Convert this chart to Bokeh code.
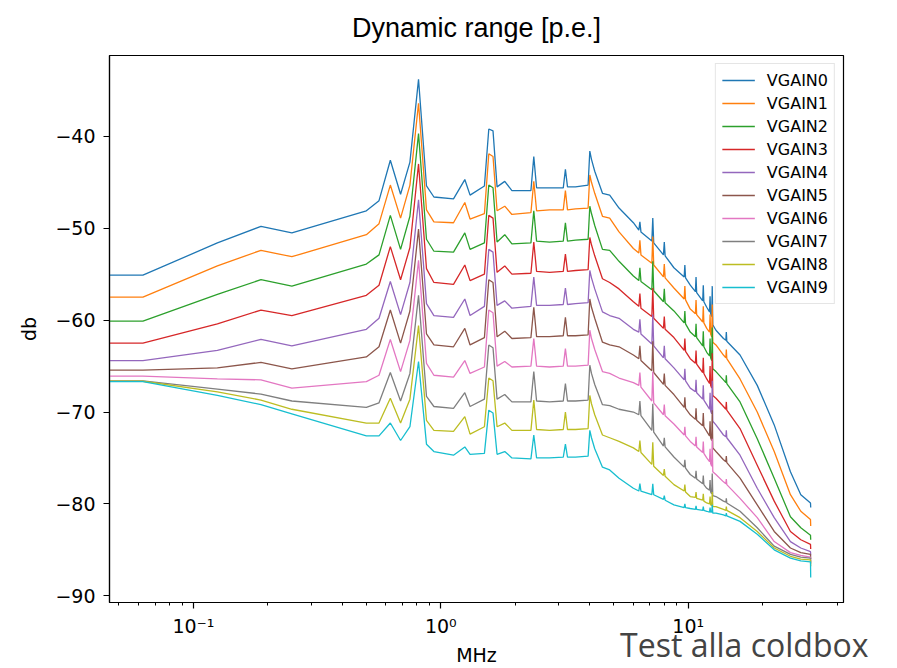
from bokeh.plotting import figure
from bokeh.models import Range1d, FixedTicker, Legend, LegendItem, Title
from bokeh.embed import file_html
from bokeh.resources import INLINE

# Frequency (MHz) sample points
FREQ = [0.0458, 0.0625, 0.125, 0.1875, 0.25, 0.5, 0.5625, 0.625, 0.6875, 0.75,
        0.8125, 0.875, 0.9375, 1.125, 1.25, 1.3125, 1.5, 1.5625, 1.625, 1.6875,
        1.8125, 1.9375, 2.3125, 2.375, 2.4375, 2.75, 3.125, 3.1875, 3.25, 3.5,
        3.9375, 4.0, 4.0625, 4.1875, 4.5, 4.8125, 5.25, 6.0, 6.3125, 6.375,
        6.4375, 7.125, 7.1875, 7.25, 7.9375, 8.0, 8.0625, 8.75, 9.625, 9.6875,
        9.75, 10.1875, 10.6875, 10.75, 10.8125, 11.4375, 11.5, 11.5625, 11.875, 12.1875,
        12.25, 12.3125, 12.4375, 12.5, 12.5625, 12.9375, 13.875, 14.1875, 14.25, 14.3125,
        16.1875, 19.0, 22.25, 25.875, 28.5, 31.1875, 31.25]

VGAIN0 = [-55.1, -55.1, -51.6, -49.8, -50.5, -48.1, -47.0, -42.6, -46.3, -42.8,
          -33.8, -45.4, -46.6, -46.8, -44.7, -46.4, -45.4, -39.2, -39.4, -45.5,
          -44.9, -45.9, -45.9, -42.2, -45.6, -45.6, -45.6, -43.6, -45.5, -45.5,
          -45.3, -41.6, -42.5, -43.8, -46.2, -46.4, -47.8, -49.4, -50.2, -49.3,
          -50.4, -51.4, -48.9, -51.6, -52.9, -51.5, -53.0, -54.3, -55.3, -54.0,
          -55.4, -56.2, -56.9, -55.3, -57.0, -57.9, -56.2, -58.0, -58.6, -59.1,
          -57.4, -59.3, -59.6, -56.3, -60.5, -61.1, -62.0, -62.2, -61.3, -62.3,
          -63.8, -67.1, -71.4, -76.5, -79.0, -79.9, -80.4]
VGAIN1 = [-57.5, -57.5, -54.1, -52.4, -53.1, -50.7, -49.5, -45.3, -48.9, -45.3,
          -36.4, -48.0, -49.3, -49.4, -47.2, -49.0, -48.4, -41.9, -42.2, -48.1,
          -47.6, -48.5, -48.3, -44.9, -48.1, -48.0, -48.0, -45.9, -48.0, -47.9,
          -47.8, -44.2, -45.0, -46.2, -48.7, -48.9, -50.4, -52.2, -52.7, -51.3,
          -52.9, -53.8, -50.9, -54.0, -55.3, -53.9, -55.4, -56.5, -57.7, -56.3,
          -57.8, -58.8, -59.3, -57.8, -59.4, -60.2, -58.5, -60.3, -60.9, -61.3,
          -59.4, -61.5, -61.8, -58.3, -62.4, -62.7, -63.8, -64.1, -63.2, -64.2,
          -66.4, -70.0, -74.3, -79.0, -80.8, -81.7, -82.4]
VGAIN2 = [-60.1, -60.1, -57.2, -55.6, -56.3, -53.9, -52.9, -48.6, -52.3, -48.7,
          -39.7, -51.2, -52.5, -52.6, -50.5, -52.3, -51.6, -45.3, -45.6, -51.5,
          -50.7, -51.7, -51.6, -48.1, -51.4, -51.5, -51.4, -49.4, -51.4, -51.3,
          -51.2, -47.6, -48.4, -49.7, -52.3, -52.4, -53.6, -55.2, -55.7, -54.3,
          -55.8, -56.7, -53.6, -56.8, -58.0, -56.6, -58.1, -59.0, -60.3, -59.0,
          -60.4, -61.3, -61.8, -60.4, -61.9, -62.8, -61.2, -62.9, -63.5, -63.9,
          -62.0, -64.1, -64.4, -60.8, -65.3, -65.6, -66.5, -66.8, -66.0, -66.9,
          -68.9, -72.9, -77.2, -81.4, -82.6, -83.4, -83.9]
VGAIN3 = [-62.5, -62.5, -60.4, -58.9, -59.5, -57.3, -56.2, -52.0, -55.6, -52.1,
          -43.0, -54.4, -55.9, -56.1, -54.0, -55.7, -55.0, -48.6, -48.9, -54.8,
          -54.1, -55.0, -54.9, -51.5, -54.7, -54.8, -54.7, -52.8, -54.7, -54.6,
          -54.5, -51.0, -51.8, -53.0, -55.5, -55.9, -56.6, -58.0, -58.5, -57.1,
          -58.7, -59.6, -56.5, -59.8, -60.9, -59.6, -61.0, -61.9, -63.3, -62.0,
          -63.4, -64.2, -64.7, -63.3, -64.8, -65.7, -64.1, -65.8, -66.4, -66.9,
          -65.0, -67.1, -67.4, -63.6, -68.2, -68.5, -69.4, -69.7, -68.9, -69.8,
          -71.8, -75.8, -79.7, -83.0, -83.9, -84.4, -84.9]
VGAIN4 = [-64.4, -64.4, -63.3, -62.1, -62.8, -61.0, -59.8, -55.8, -59.4, -55.9,
          -46.9, -58.2, -59.5, -59.7, -57.7, -59.5, -58.5, -52.3, -52.6, -58.4,
          -57.9, -58.7, -58.5, -55.3, -58.4, -58.4, -58.3, -56.5, -58.3, -58.2,
          -58.1, -54.6, -55.4, -56.6, -59.1, -59.5, -59.8, -61.0, -61.3, -59.9,
          -61.5, -62.6, -59.4, -62.8, -64.1, -62.8, -64.2, -65.2, -66.5, -65.3,
          -66.6, -67.4, -67.8, -66.5, -67.9, -68.6, -67.1, -68.7, -69.2, -69.7,
          -67.9, -69.9, -70.2, -66.6, -71.0, -71.4, -72.5, -72.7, -72.0, -72.8,
          -74.7, -78.3, -81.5, -84.1, -84.8, -85.2, -85.6]
VGAIN5 = [-65.45, -65.45, -65.2, -64.6, -65.3, -64.0, -62.9, -58.9, -62.5, -59.0,
          -50.1, -61.5, -62.7, -62.9, -60.9, -62.7, -61.9, -55.6, -55.9, -61.8,
          -61.2, -62.0, -61.9, -58.6, -61.8, -61.8, -61.7, -59.7, -61.7, -61.7,
          -61.6, -57.7, -58.6, -59.8, -62.4, -62.7, -62.9, -63.8, -64.2, -62.8,
          -64.4, -65.5, -62.3, -65.7, -67.0, -65.8, -67.1, -68.1, -69.5, -68.4,
          -69.6, -70.3, -70.8, -69.6, -70.9, -71.5, -70.1, -71.6, -72.1, -72.6,
          -71.0, -72.8, -73.1, -69.8, -73.9, -74.3, -75.2, -75.4, -74.8, -75.5,
          -77.2, -80.1, -83.0, -84.8, -85.3, -85.5, -86.0]
VGAIN6 = [-66.1, -66.1, -66.4, -66.5, -67.4, -66.7, -66.0, -62.1, -65.6, -62.2,
          -53.5, -64.7, -66.0, -66.2, -64.4, -65.8, -65.1, -58.9, -59.2, -65.0,
          -64.5, -65.1, -65.0, -62.0, -65.0, -65.1, -65.0, -63.1, -65.0, -65.0,
          -64.9, -61.1, -62.0, -63.2, -65.6, -65.8, -66.3, -66.8, -67.1, -65.7,
          -67.3, -68.8, -65.6, -69.0, -70.3, -69.2, -70.4, -71.3, -72.5, -71.6,
          -72.6, -73.2, -73.7, -72.7, -73.8, -74.4, -73.2, -74.5, -75.0, -75.4,
          -74.0, -75.6, -75.9, -72.9, -76.5, -76.8, -77.6, -77.8, -77.3, -77.9,
          -79.4, -81.5, -84.1, -85.3, -85.6, -85.8, -86.3]
VGAIN7 = [-66.6, -66.6, -67.5, -68.05, -68.8, -69.5, -69.0, -65.7, -68.8, -65.8,
          -57.3, -68.3, -69.4, -69.6, -67.9, -69.4, -68.6, -62.7, -63.0, -68.6,
          -68.1, -68.9, -68.9, -65.6, -68.8, -68.9, -68.8, -66.9, -68.8, -68.8,
          -68.7, -64.9, -65.8, -67.0, -69.2, -69.3, -69.7, -70.0, -70.3, -68.8,
          -70.4, -72.0, -69.1, -72.2, -73.7, -72.8, -73.8, -74.9, -76.0, -75.2,
          -76.1, -76.8, -77.2, -76.4, -77.3, -77.8, -76.9, -77.9, -78.3, -78.5,
          -77.4, -78.7, -78.9, -76.7, -79.1, -79.2, -79.7, -79.8, -79.4, -79.9,
          -80.8, -82.6, -84.6, -85.5, -85.8, -85.9, -86.5]
VGAIN8 = [-66.65, -66.65, -67.8, -68.7, -69.7, -71.2, -71.2, -68.5, -71.2, -68.6,
          -60.6, -70.9, -72.0, -72.1, -70.5, -72.4, -71.6, -66.3, -66.6, -71.6,
          -71.2, -72.0, -72.0, -68.7, -71.9, -72.0, -71.9, -70.0, -71.9, -71.9,
          -71.8, -68.2, -69.1, -70.3, -72.5, -72.8, -73.2, -73.9, -74.3, -73.1,
          -74.4, -75.7, -73.3, -75.9, -76.9, -76.2, -77.0, -77.9, -78.6, -77.9,
          -78.7, -79.2, -79.3, -78.7, -79.4, -79.6, -78.9, -79.7, -79.9, -80.0,
          -79.2, -80.1, -80.2, -78.7, -80.3, -80.3, -80.6, -80.7, -80.3, -80.7,
          -81.5, -83.0, -84.8, -85.7, -86.0, -86.1, -86.8]
VGAIN9 = [-66.7, -66.7, -68.2, -69.2, -70.2, -72.6, -72.6, -71.2, -73.1, -71.6,
          -64.5, -73.5, -74.3, -74.7, -73.8, -74.6, -74.5, -69.8, -70.1, -74.6,
          -74.3, -75.0, -75.1, -72.5, -75.0, -75.0, -74.9, -73.5, -74.9, -74.9,
          -74.8, -72.0, -72.8, -74.0, -76.0, -76.3, -77.2, -78.3, -78.6, -77.8,
          -78.6, -79.0, -77.8, -79.0, -79.5, -79.1, -79.6, -80.1, -80.4, -80.0,
          -80.4, -80.5, -80.6, -80.2, -80.6, -80.7, -80.3, -80.7, -80.8, -80.9,
          -80.4, -80.9, -80.9, -80.1, -81.0, -81.0, -81.2, -81.3, -81.0, -81.3,
          -81.9, -83.3, -85.0, -85.9, -86.2, -86.3, -88.0]

SERIES_NAMES = ["VGAIN0", "VGAIN1", "VGAIN2", "VGAIN3", "VGAIN4",
                "VGAIN5", "VGAIN6", "VGAIN7", "VGAIN8", "VGAIN9"]
SERIES = [VGAIN0, VGAIN1, VGAIN2, VGAIN3, VGAIN4, VGAIN5, VGAIN6, VGAIN7, VGAIN8, VGAIN9]
COLORS = ["#1f77b4", "#ff7f0e", "#2ca02c", "#d62728", "#9467bd",
          "#8c564b", "#e377c2", "#7f7f7f", "#bcbd22", "#17becf"]

X_TICKS = [0.1, 1, 10]
X_TICK_LABELS = ["10\u207b\u00b9", "10\u2070", "10\u00b9"]
X_MINOR = [0.05, 0.06, 0.07, 0.08, 0.09, 0.2, 0.3, 0.4, 0.5, 0.6, 0.7, 0.8, 0.9,
           2, 3, 4, 5, 6, 7, 8, 9, 20, 30, 40]
Y_TICKS = [-90, -80, -70, -60, -50, -40]

FONT = "DejaVu Sans"

p = figure(width=897, height=668, x_axis_type="log",
           x_range=Range1d(0.0458, 42.4), y_range=Range1d(-90.73, -31.2),
           toolbar_location=None, output_backend="svg",
           min_border_left=109, min_border_right=54,
           min_border_top=55, min_border_bottom=64,
           title="Dynamic range [p.e.]")

p.title.text_font = "Liberation Sans"
p.title.text_font_size = "27px"
p.title.text_font_style = "normal"
p.title.text_color = "black"
p.title.align = "center"
p.title.vertical_align = "top"
p.title.standoff = 22

p.grid.visible = False
p.outline_line_color = "black"
p.outline_line_width = 1.2
p.background_fill_color = "white"
p.border_fill_color = "white"

xa = p.xaxis[0]
xa.ticker = FixedTicker(ticks=X_TICKS, minor_ticks=X_MINOR)
xa.major_label_overrides = {t: lab for t, lab in zip(X_TICKS, X_TICK_LABELS)}
xa.axis_label = "MHz"
ya = p.yaxis[0]
ya.ticker = FixedTicker(ticks=Y_TICKS, minor_ticks=[])
ya.major_label_overrides = {t: "\u2212" + str(abs(t)) for t in Y_TICKS}
ya.axis_label = "db"

for ax in (xa, ya):
    ax.axis_line_color = "black"
    ax.axis_line_width = 1.2
    ax.major_tick_line_width = 1.2
    ax.minor_tick_line_width = 1.0
    ax.major_tick_in = 0
    ax.major_tick_out = 6
    ax.minor_tick_in = 0
    ax.minor_tick_out = 3
    ax.major_label_text_font = FONT
    ax.major_label_text_font_size = "19px"
    ax.major_label_text_color = "black"
    ax.axis_label_text_font = FONT
    ax.axis_label_text_font_size = "19px"
    ax.axis_label_text_font_style = "normal"
    ax.axis_label_text_color = "black"
xa.major_label_standoff = 6
xa.axis_label_standoff = 4
ya.major_label_standoff = 8
ya.axis_label_standoff = 12

items = []
for name, vals, col in zip(SERIES_NAMES, SERIES, COLORS):
    r = p.line(FREQ, vals, line_color=col, line_width=1.3)
    items.append(LegendItem(label=name, renderers=[r]))

legend = Legend(items=items, location="top_right")
legend.label_text_font = FONT
legend.label_text_font_size = "16px"
legend.label_text_color = "black"
legend.glyph_width = 33
legend.glyph_height = 20
legend.label_height = 20
legend.spacing = 3
legend.padding = 6
legend.margin = 8
legend.label_standoff = 12
legend.border_line_color = "#cccccc"
legend.border_line_width = 1
legend.background_fill_alpha = 0.8
p.add_layout(legend)

note = Title(text="Test alla coldbox", align="right", vertical_align="top",
             text_font="Open Sans", text_font_size="32px",
             text_font_style="normal", text_color="#444444",
             offset=-25, standoff=-92)
p.add_layout(note, "below")

open("out.html", "w").write(file_html(p, INLINE))
